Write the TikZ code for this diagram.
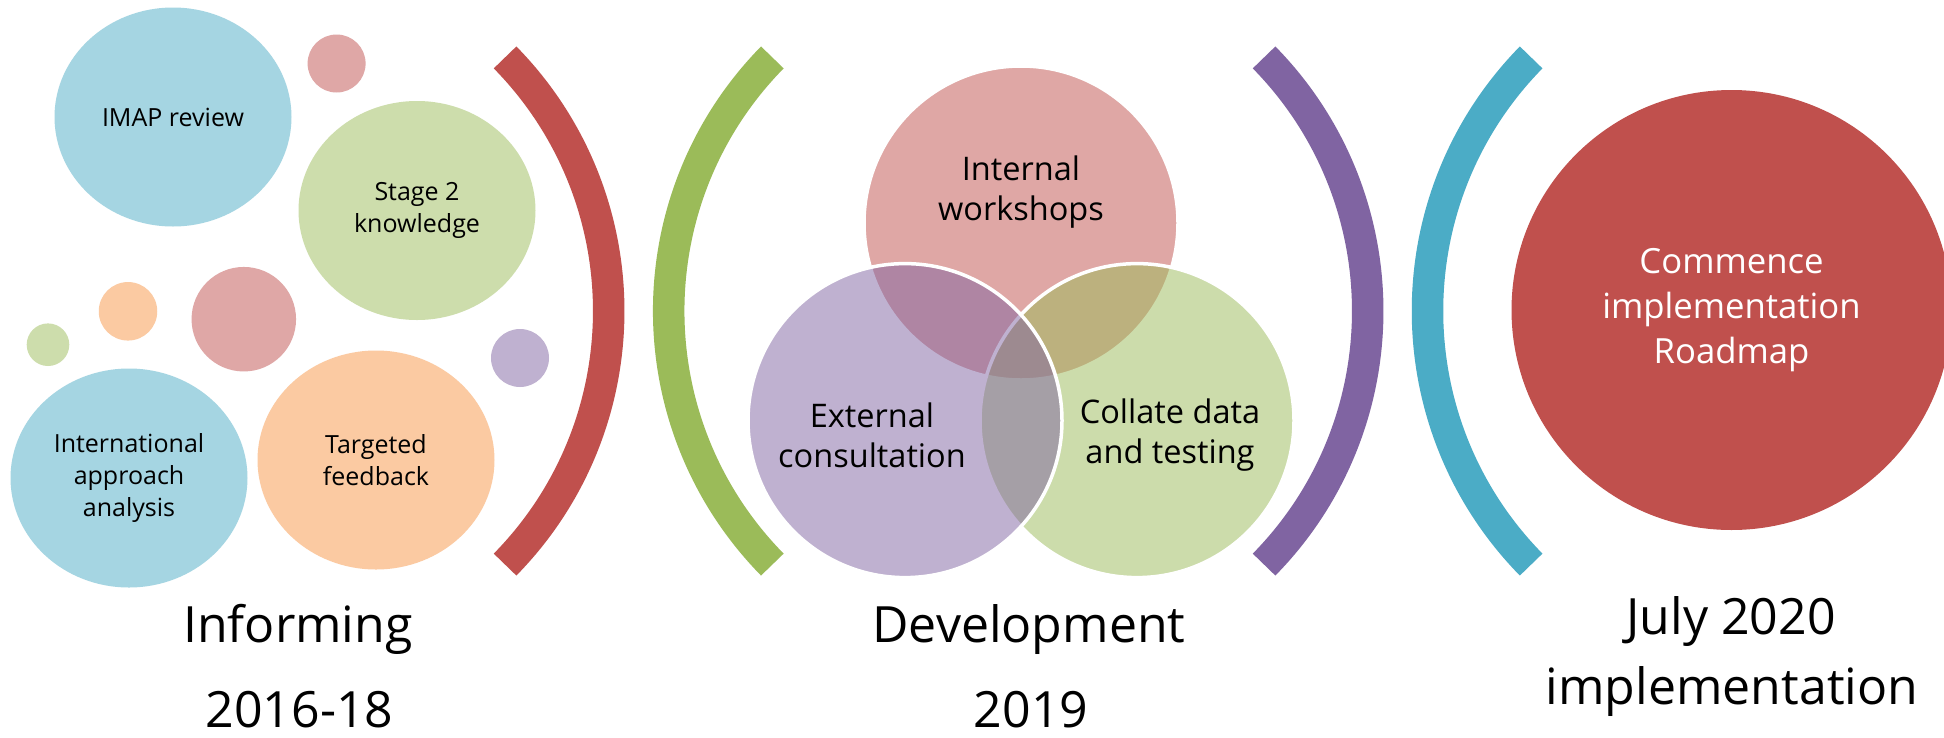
\documentclass[tikz,border=0pt]{standalone}
\usepackage{fontspec}
\setmainfont{Open Sans}
\usetikzlibrary{shapes.geometric}
\definecolor{cRed}{HTML}{C0504D}
\definecolor{cGreen}{HTML}{9BBB59}
\definecolor{cPurple}{HTML}{8064A2}
\definecolor{cBlue}{HTML}{4BACC6}
\definecolor{lBlue}{HTML}{A5D5E2}
\definecolor{lGreen}{HTML}{CDDDAC}
\definecolor{lPink}{HTML}{DFA7A6}
\definecolor{lOrange}{HTML}{FBCAA2}
\definecolor{lPurple}{HTML}{BFB1D0}
\tikzset{
  bigbubble/.style={ellipse, fill=#1, inner sep=0pt, minimum width=237pt, minimum height=219pt, align=center, font=\fontsize{25}{32}\selectfont},
  dot/.style={circle, fill=#1, inner sep=0pt},
  venn/.style={circle, fill=#1, fill opacity=0.5, draw=white, draw opacity=1, line width=3.5pt, minimum size=314pt, inner sep=0pt},
  venntext/.style={align=center, font=\fontsize{32.5}{40}\selectfont},
  bracket/.style={line width=31.5pt, draw=#1},
  caption/.style={anchor=base, font=\fontsize{50}{60}\selectfont},
}
\begin{document}
\begin{tikzpicture}[x=1pt,y=-1pt]
\useasboundingbox (0,0) rectangle (1944,737);
\clip (0,0) rectangle (1944,737);
\fill[white] (0,0) rectangle (1944,737);

% ---- Informing bubbles
\node[bigbubble=lBlue] (imap) at (173,117) {IMAP review};
\node[dot=lPink, minimum size=58pt] (d1) at (336.6,63.5) {};
\node[bigbubble=lGreen] (stage) at (417,210.5) {Stage 2\\knowledge};
\node[dot=lOrange, minimum size=58.5pt] (d2) at (128,311.3) {};
\node[dot=lPink, minimum size=104.5pt] (d3) at (243.8,319.2) {};
\node[dot=lGreen, minimum size=42.6pt] (d4) at (48,344.7) {};
\node[dot=lPurple, minimum size=58pt] (d5) at (520,358) {};
\node[bigbubble=lBlue] (intl) at (129,478) {International\\approach\\analysis};
\node[bigbubble=lOrange] (target) at (376,460) {Targeted\\feedback};

% ---- brackets
\draw[bracket=cRed] ([shift={(-44.47:362)}]246.75,311) arc[start angle=-44.47, end angle=44.47, radius=362];
\draw[bracket=cGreen] ([shift={(224.47:362)}]1030.65,311) arc[start angle=224.47, end angle=135.53, radius=362];
\draw[bracket=cPurple] ([shift={(-44.47:362)}]1005.75,311) arc[start angle=-44.47, end angle=44.47, radius=362];
\draw[bracket=cBlue] ([shift={(224.47:362)}]1789.45,311) arc[start angle=224.47, end angle=135.53, radius=362];

% ---- Venn
\node[venn=cRed] (internal) at (1021,223) {};
\node[venn=cGreen] (collate) at (1137,420.6) {};
\node[venn=cPurple] (external) at (905,420.6) {};
\node[venntext] (internaltxt) at (1021,192) {Internal\\workshops};
\node[venntext] (externaltxt) at (872,435) {External\\consultation};
\node[venntext] (collatetxt) at (1170,435) {Collate data\\and testing};

% ---- Roadmap
\node[circle, fill=cRed, minimum size=440pt, inner sep=0pt] (roadmap) at (1731.5,310) {};
\node[align=center, text=white, font=\fontsize{34.7}{45}\selectfont] (roadmaptxt) at (1731.5,310) {Commence\\implementation\\Roadmap};

% ---- captions
\node[caption] (inf) at (298,642) {Informing};
\node[caption] (infy) at (299.6,727) {2016-18};
\node[caption] (dev) at (1029,642) {Development};
\node[caption] (devy) at (1031,727) {2019};
\node[caption] (jul) at (1731,634) {July 2020};
\node[caption] (impl) at (1732,704.7) {implementation};
\end{tikzpicture}
\end{document}
